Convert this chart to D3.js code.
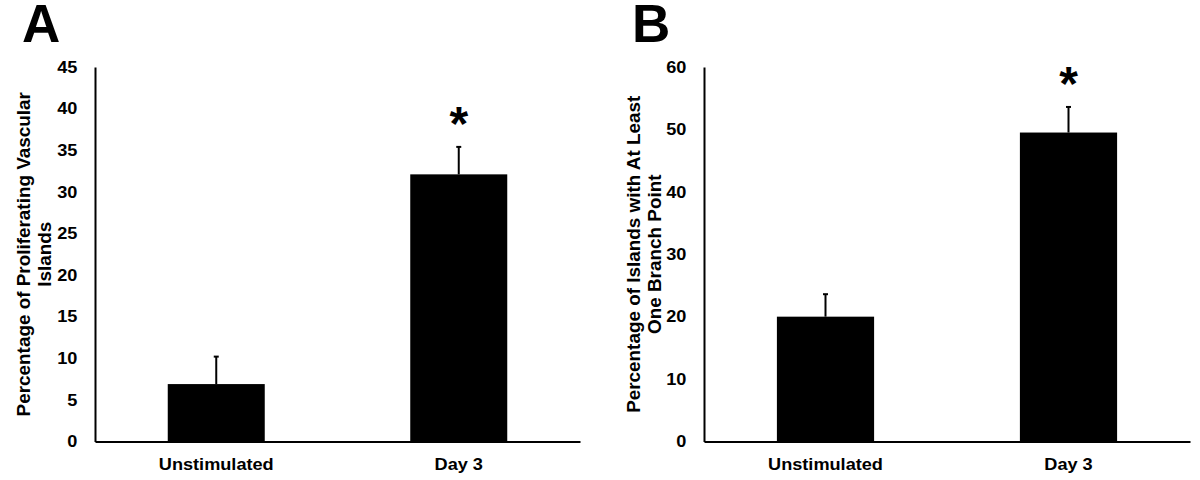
<!DOCTYPE html>
<html>
<head>
<meta charset="utf-8">
<script src="https://cdn.jsdelivr.net/npm/d3@7"></script>
<style>
  body { margin: 0; background: #fff; }
  text { font-family: "Liberation Sans", Arial, sans-serif; font-weight: bold; fill: #000; }
</style>
</head>
<body>
<script>
// data
const categories = ["Unstimulated", "Day 3"];
const prolifMean = [6.9, 32.1];
const prolifErr = [3.3, 3.3];
const branchMean = [20.0, 49.5];
const branchErr = [3.6, 4.1];
const significant = [false, true];
const prolifTicks = [0, 5, 10, 15, 20, 25, 30, 35, 40, 45];
const branchTicks = [0, 10, 20, 30, 40, 50, 60];

const width = 1200, height = 480;

const svg = d3.select("body").append("svg")
    .attr("width", width)
    .attr("height", height);

function drawPanel(o) {
    const x = d3.scaleBand()
        .domain(categories)
        .range([o.left, o.right])
        .paddingInner(0.6)
        .paddingOuter(0.3);
    const y = d3.scaleLinear()
        .domain([0, d3.max(o.ticks)])
        .range([441.5, 67]);

    const g = svg.append("g");

    // panel letter
    g.append("text")
        .attr("x", o.letterX)
        .attr("y", 42)
        .attr("font-size", 53)
        .text(o.letter);

    // bars
    g.selectAll("rect.bar")
        .data(o.mean)
        .enter().append("rect")
        .attr("class", "bar")
        .attr("x", (d, i) => x(categories[i]))
        .attr("width", x.bandwidth())
        .attr("y", d => y(d))
        .attr("height", d => y(0) - y(d))
        .attr("fill", "#000");

    // error bars (upper only)
    const cx = (i) => x(categories[i]) + x.bandwidth() / 2;
    g.selectAll("line.err")
        .data(o.mean)
        .enter().append("line")
        .attr("class", "err")
        .attr("x1", (d, i) => cx(i))
        .attr("x2", (d, i) => cx(i))
        .attr("y1", d => y(d))
        .attr("y2", (d, i) => y(d + o.err[i]))
        .attr("stroke", "#000")
        .attr("stroke-width", 2);
    g.selectAll("line.cap")
        .data(o.mean)
        .enter().append("line")
        .attr("class", "cap")
        .attr("x1", (d, i) => cx(i) - 2.5)
        .attr("x2", (d, i) => cx(i) + 2.5)
        .attr("y1", (d, i) => y(d + o.err[i]))
        .attr("y2", (d, i) => y(d + o.err[i]))
        .attr("stroke", "#000")
        .attr("stroke-width", 2);

    // asterisks
    g.selectAll("text.star")
        .data(o.mean.map((d, i) => ({v: d + o.err[i], i: i})).filter(d => significant[d.i]))
        .enter().append("text")
        .attr("class", "star")
        .attr("x", d => cx(d.i))
        .attr("y", d => y(d.v) - 7)
        .attr("text-anchor", "middle")
        .attr("font-size", 48)
        .text("*");

    // axes
    const yAxis = g.append("g")
        .attr("transform", `translate(${o.left},0)`)
        .call(d3.axisLeft(y).tickValues(o.ticks).tickSize(0).tickPadding(16));
    const xAxis = g.append("g")
        .attr("transform", `translate(0,${y(0)})`)
        .call(d3.axisBottom(x).tickSize(0).tickPadding(17));

    [yAxis, xAxis].forEach(a => {
        a.select(".domain").attr("stroke", "#000").attr("stroke-width", 2);
        a.selectAll("text")
            .attr("font-size", 16.5)
            .attr("font-family", "Liberation Sans, Arial, sans-serif")
            .attr("font-weight", "bold")
            .attr("fill", "#000");
    });
    yAxis.selectAll(".tick text").attr("transform", "scale(1.1,1)");
    xAxis.selectAll(".tick text").attr("transform", "scale(1.1,1)");

    // y-axis title, two lines
    const midY = (y(0) + y(d3.max(o.ticks))) / 2;
    o.title.forEach((line, k) => {
        g.append("text")
            .attr("transform", `translate(${o.titleX[k]},${midY}) rotate(-90) scale(1.05,1)`)
            .attr("text-anchor", "middle")
            .attr("font-size", 18)
            .text(line);
    });
}

drawPanel({
    letter: "A", letterX: 22,
    left: 95, right: 580,
    mean: prolifMean, err: prolifErr, ticks: prolifTicks,
    title: ["Percentage of Proliferating Vascular", "Islands"],
    titleX: [30, 51]
});

drawPanel({
    letter: "B", letterX: 632,
    left: 704, right: 1190,
    mean: branchMean, err: branchErr, ticks: branchTicks,
    title: ["Percentage of Islands with At Least", "One Branch Point"],
    titleX: [640, 661]
});
</script>
</body>
</html>
